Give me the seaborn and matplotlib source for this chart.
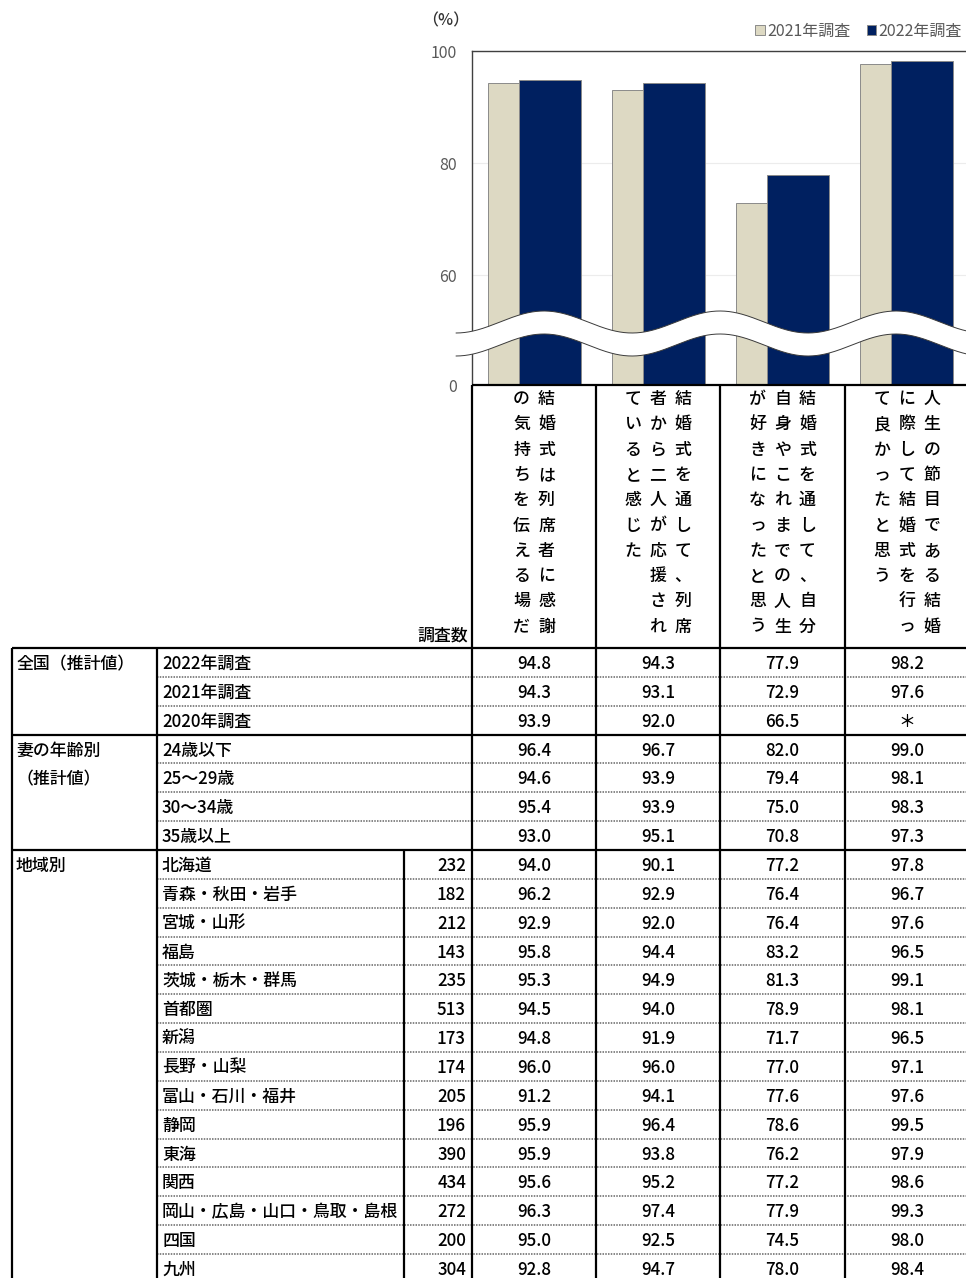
import matplotlib
matplotlib.use("Agg")
import numpy as np
import pandas as pd
import matplotlib.pyplot as plt
from matplotlib.patches import Patch, Polygon
import seaborn as sns

# ---- survey items (column headers) ----
items = [
    "結婚式は列席者に感謝の気持ちを伝える場だ",
    "結婚式を通して、列席者から二人が応援されていると感じた",
    "結婚式を通して、自分自身やこれまでの人生が好きになったと思う",
    "人生の節目である結婚に際して結婚式を行って良かったと思う",
]
series = ["2021年調査", "2022年調査"]
series_colors = ["#DDD9C3", "#002060"]

# ---- national estimates ----
national_labels = ["2022年調査", "2021年調査", "2020年調査"]
national_2022 = [94.8, 94.3, 77.9, 98.2]
national_2021 = [94.3, 93.1, 72.9, 97.6]
national_2020 = [93.9, 92.0, 66.5, None]

# ---- by wife's age ----
age_labels = ["24歳以下", "25～29歳", "30～34歳", "35歳以上"]
age_values = [
    [96.4, 96.7, 82.0, 99.0],
    [94.6, 93.9, 79.4, 98.1],
    [95.4, 93.9, 75.0, 98.3],
    [93.0, 95.1, 70.8, 97.3],
]

# ---- by region ----
region_labels = ["北海道", "青森・秋田・岩手", "宮城・山形", "福島", "茨城・栃木・群馬",
                 "首都圏", "新潟", "長野・山梨", "富山・石川・福井", "静岡", "東海",
                 "関西", "岡山・広島・山口・鳥取・島根", "四国", "九州"]
region_counts = [232, 182, 212, 143, 235, 513, 173, 174, 205, 196, 390, 434, 272, 200, 304]
region_values = [
    [94.0, 90.1, 77.2, 97.8],
    [96.2, 92.9, 76.4, 96.7],
    [92.9, 92.0, 76.4, 97.6],
    [95.8, 94.4, 83.2, 96.5],
    [95.3, 94.9, 81.3, 99.1],
    [94.5, 94.0, 78.9, 98.1],
    [94.8, 91.9, 71.7, 96.5],
    [96.0, 96.0, 77.0, 97.1],
    [91.2, 94.1, 77.6, 97.6],
    [95.9, 96.4, 78.6, 99.5],
    [95.9, 93.8, 76.2, 97.9],
    [95.6, 95.2, 77.2, 98.6],
    [96.3, 97.4, 77.9, 99.3],
    [95.0, 92.5, 74.5, 98.0],
    [92.8, 94.7, 78.0, 98.4],
]

sns.set_theme(style="white")
plt.rcParams["font.family"] = ["Noto Sans CJK JP", "DejaVu Sans"]

W, H = 966, 1278
fig = plt.figure(figsize=(W / 100, H / 100), dpi=100)


def fx(px):
    return px / W


def fy(py):
    return 1 - py / H


# ---------------- bar chart ----------------
ax = fig.add_axes([fx(472), fy(385), fx(969) - fx(472), fy(51) - fy(385)])
bars = pd.DataFrame({
    "item": items * 2,
    "survey": [series[0]] * len(items) + [series[1]] * len(items),
    "pct": national_2021 + national_2022,
})
sns.barplot(data=bars, x="item", y="pct", hue="survey", hue_order=series,
            palette=dict(zip(series, series_colors)), width=1.0, dodge=True,
            saturation=1, errorbar=None, edgecolor="#8a8a8a", linewidth=0.7,
            legend=False, ax=ax)
# overlap the two series by half a bar width
for cont, shift in zip(ax.containers, (0.125, -0.125)):
    for bar in cont:
        bar.set_x(bar.get_x() + shift)

ax.set_xlim(-0.5, len(items) - 0.5)
axis_floor = 40.4  # broken axis: the bottom of the visible range stands for 0
ax.set_ylim(axis_floor, 100)
ax.set_yticks([axis_floor, 60, 80, 100], labels=["0", "60", "80", "100"])
ax.set_xticks(np.arange(len(items) - 1) + 0.5, labels=[""] * (len(items) - 1))
ax.set_xlabel("")
ax.set_ylabel("")
ax.tick_params(axis="y", length=0, pad=11, labelsize=11.5, labelcolor="#595959")
ax.tick_params(axis="x", direction="in", length=6, width=1, color="black")
ax.grid(axis="y", color="#ececec", lw=0.8)
ax.set_axisbelow(True)
for side in ("right", "bottom"):
    ax.spines[side].set_visible(False)
for side in ("top", "left"):
    ax.spines[side].set_color("#404040")
    ax.spines[side].set_linewidth(1.0)

fig.legend(handles=[Patch(facecolor=c, edgecolor="#8a8a8a", lw=0.7) for c in series_colors],
           labels=series, loc="center right", bbox_to_anchor=(fx(962), fy(31)),
           ncol=2, frameon=False, fontsize=11.5, handlelength=0.6, handleheight=0.6,
           handletextpad=0.15, columnspacing=1.0, labelcolor="#595959",
           borderpad=0, borderaxespad=0)

# ---------------- overlay in pixel coordinates ----------------
ov = fig.add_axes([0, 0, 1, 1])
ov.set_xlim(0, W)
ov.set_ylim(H, 0)
ov.axis("off")

# wavy break band across the value axis
wx = np.linspace(456, 972, 600)
wtop = 322 + 11 * np.cos(2 * np.pi * (wx - 456) / 176)
wbot = wtop + 23
ov.add_patch(Polygon(np.column_stack([np.r_[wx, wx[::-1]], np.r_[wtop, wbot[::-1]]]),
                     closed=True, facecolor="white", edgecolor="none", zorder=5))
ov.plot(wx, wtop, color="#3a3a3a", lw=0.7, zorder=6)
ov.plot(wx, wbot, color="#3a3a3a", lw=0.7, zorder=6)

ov.text(446, 21, "（%）", ha="center", va="center", fontsize=11.5, color="#333333",
        fontweight="medium")

# ---------------- table ----------------
FS = 12.2
TW = "medium"
col_edges = [472, 596, 720, 845, 969]
col_centers = [(a + b) / 2 for a, b in zip(col_edges[:-1], col_edges[1:])]
thick = dict(color="black", lw=1.6, solid_capstyle="butt", zorder=3)
dotted = dict(color="#666666", lw=1.1, linestyle=(0, (1.0, 0.8)), zorder=2)

# header with vertical item text (columns read right to left)
ov.plot([472, W], [385, 385], **thick)
for i, text in enumerate(items):
    chunks = [text[k:k + 10] for k in range(0, len(text), 10)]
    n = len(chunks)
    for j, chunk in enumerate(chunks):
        x = col_centers[i] + (n - 1) / 2 * 25 - j * 25
        for k, ch in enumerate(chunk):
            ov.text(x, 399 + k * 25.3, ch, ha="center", va="center", fontsize=FS,
                    fontweight=TW, color="black")
ov.text(468, 636, "調査数", ha="right", va="center", fontsize=FS, fontweight=TW, color="black")

# body rows
rows = []
for lab, vals in zip(national_labels, [national_2022, national_2021, national_2020]):
    rows.append((lab, None, vals))
for lab, vals in zip(age_labels, age_values):
    rows.append((lab, None, vals))
for lab, n, vals in zip(region_labels, region_counts, region_values):
    rows.append((lab, n, vals))
groups = [(0, ["全国（推計値）"]), (3, ["妻の年齢別", "（推計値）"]), (7, ["地域別"])]
group_starts = [g[0] for g in groups]

top, rh = 648, 28.86
for r in range(len(rows) + 1):
    y = top + r * rh
    if r in group_starts:
        ov.plot([12, W], [y, y], **thick)
    elif r < len(rows):
        ov.plot([157, W], [y, y], **dotted)

for x in (12, 157):
    ov.plot([x, x], [top, H], **thick)
for x in col_edges[:-1]:
    ov.plot([x, x], [385, H], **thick)
ov.plot([404, 404], [top + 7 * rh, H], **thick)

for start, labels in groups:
    for k, lab in enumerate(labels):
        ov.text(16, top + (start + k + 0.5) * rh + 1.5, lab, ha="left", va="center",
                fontsize=FS, fontweight=TW, color="black")

for r, (lab, n, vals) in enumerate(rows):
    yc = top + (r + 0.5) * rh + 1.5
    ov.text(162, yc, lab, ha="left", va="center", fontsize=FS, fontweight=TW, color="black")
    if n is not None:
        ov.text(466, yc, str(n), ha="right", va="center", fontsize=FS, fontweight=TW,
                color="black")
    for c, v in enumerate(vals):
        s = "＊" if v is None else f"{v:.1f}"
        ov.text(col_centers[c], yc, s, ha="center", va="center", fontsize=FS,
                fontweight=TW, color="black")

fig.savefig("out.png", dpi=100)
